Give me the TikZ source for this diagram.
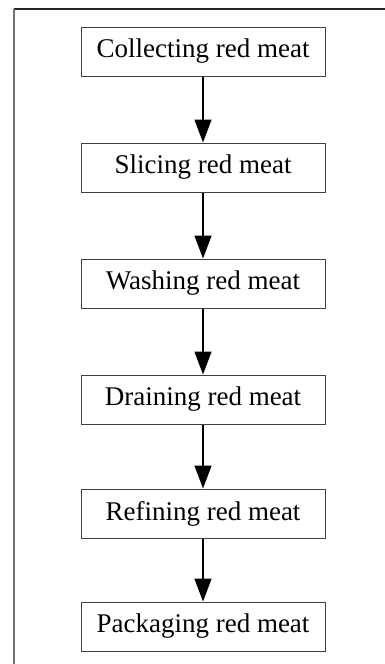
\documentclass[tikz,border=0pt]{standalone}
\usepackage{fontspec}
\setmainfont{Liberation Serif}
\usepackage{tikz}
\usetikzlibrary{arrows.meta,positioning}
\tikzstyle{stepbox}=[rectangle, draw=black!75, line width=1pt,% same size for every step
minimum width=244pt, minimum height=49pt, inner sep=0pt, font=\fontsize{27}{32}\selectfont]
\tikzstyle{flow}=[-{Triangle[length=23pt,width=17pt]}, line width=1.6pt]

\begin{document}
\begin{tikzpicture}[x=1pt,y=1pt,node distance=66pt]

\useasboundingbox (0,0) rectangle (385,-664);
% frame (open at right and bottom)
\draw[line width=1.2pt, black!85] (385,-9) -- (13.5,-9);
\draw[line width=2pt, black!55] (13.5,-9) -- (13.5,-664);

\node[stepbox] (collect) at (203,-51.5) {Collecting red meat};
\node[stepbox, below=of collect] (slice) {Slicing red meat};
\node[stepbox, below=of slice] (wash) {Washing red meat};
\node[stepbox, below=of wash] (drain) {Draining red meat};
\node[stepbox, below=64pt of drain] (refine) {Refining red meat};
\node[stepbox, below=63pt of refine] (pack) {Packaging red meat};

\draw [flow] (collect) -- (slice);
\draw [flow] (slice) -- (wash);
\draw [flow] (wash) -- (drain);
\draw [flow] (drain) -- (refine);
\draw [flow] (refine) -- (pack);

\end{tikzpicture}
\end{document}
